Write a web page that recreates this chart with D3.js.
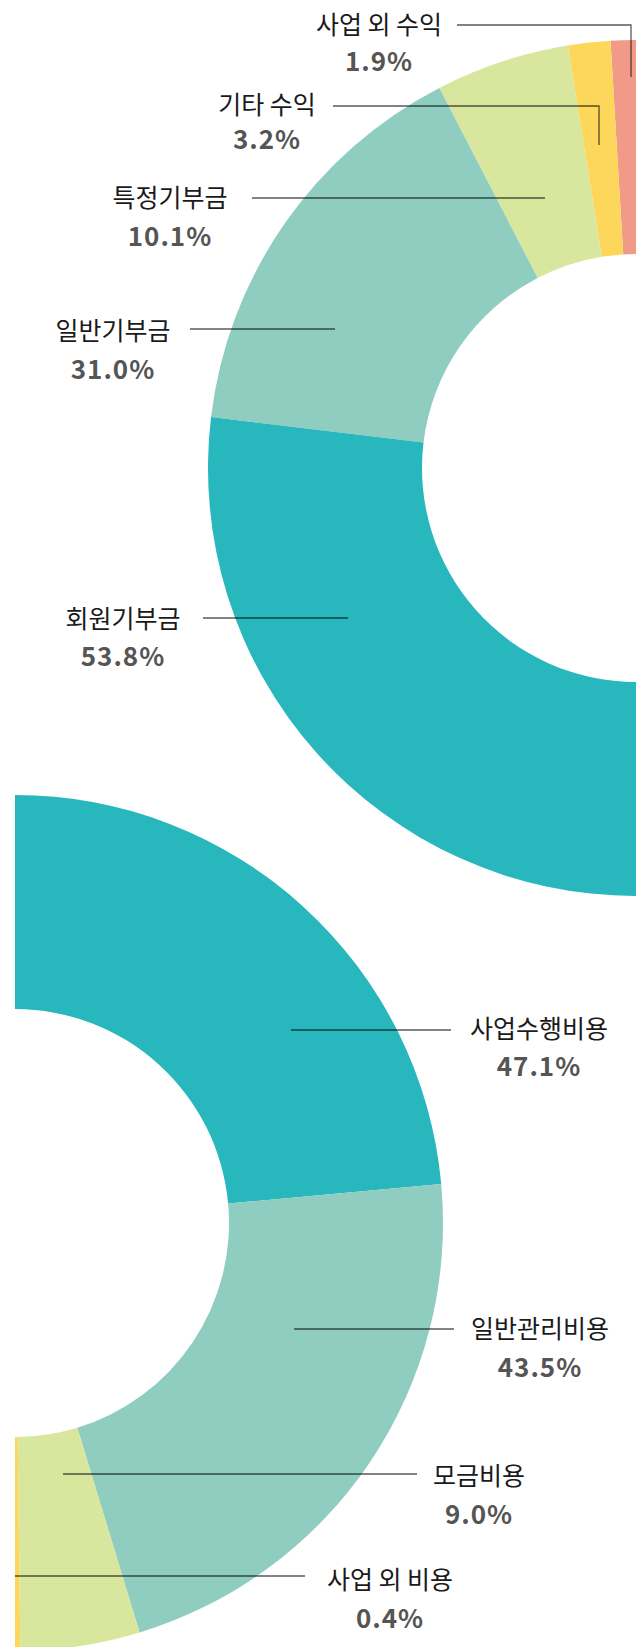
<!DOCTYPE html>
<html>
<head>
<meta charset="utf-8">
<script src="https://cdn.jsdelivr.net/npm/d3@7"></script>
<style>
  html, body { margin: 0; padding: 0; background: #fff; }
  svg { display: block; }
</style>
</head>
<body>
<div id="chart"></div>
<script>
// ---- data ----
const incomeLabels = ['사업 외 수익', '기타 수익', '특정기부금', '일반기부금', '회원기부금'];
const incomeValues = [1.9, 3.2, 10.1, 31.0, 53.8];
const expenseLabels = ['사업수행비용', '일반관리비용', '모금비용', '사업 외 비용'];
const expenseValues = [47.1, 43.5, 9.0, 0.4];

// ---- styles / layout ----
const incomeColors = ['#f29a88', '#fdd75c', '#d8e69e', '#8ecdc0', '#27b7bc'];
const expenseColors = ['#27b7bc', '#8ecdc0', '#d8e69e', '#fdd75c'];

const W = 642, H = 1647;
const outerR = 428, innerR = 214;
const topCenter = [636, 468];
const botCenter = [15, 1223];

// label layout: text center x, label center y, pct center y, leader polyline points
const incomeLayout = [
  { tx: 379, ly: 23, py: 59, pts: [[457, 25], [631, 25], [631, 77]] },
  { tx: 267, ly: 103, py: 137, pts: [[333, 106], [599, 106], [599, 145]] },
  { tx: 170, ly: 196, py: 234, pts: [[252, 198], [545, 198]] },
  { tx: 113, ly: 329, py: 367, pts: [[190, 329], [335, 329]] },
  { tx: 123, ly: 617, py: 654, pts: [[203, 618], [348, 618]] }
];
const expenseLayout = [
  { tx: 539, ly: 1027, py: 1064, pts: [[291, 1030], [451, 1030]] },
  { tx: 540, ly: 1327, py: 1365, pts: [[294, 1329], [454, 1329]] },
  { tx: 479, ly: 1474, py: 1512, pts: [[63, 1474], [417, 1474]] },
  { tx: 390, ly: 1578, py: 1616, pts: [[15, 1576], [305, 1576]] }
];

const svg = d3.select('#chart').append('svg')
  .attr('width', W).attr('height', H)
  .attr('viewBox', `0 0 ${W} ${H}`);

const arc = d3.arc().innerRadius(innerR).outerRadius(outerR);

function drawDonut(center, labels, values, colors, start, end, layout) {
  const pie = d3.pie().sort(null).startAngle(start).endAngle(end).value(d => d);
  const arcs = pie(values);
  const g = svg.append('g').attr('transform', `translate(${center[0]},${center[1]})`);
  g.selectAll('path').data(arcs).join('path')
    .attr('d', arc)
    .attr('fill', (d, i) => colors[i]);

  const lineGen = d3.line();
  const lg = svg.append('g');
  lg.selectAll('path').data(layout).join('path')
    .attr('d', d => lineGen(d.pts))
    .attr('fill', 'none')
    .attr('stroke', '#000')
    .attr('stroke-opacity', 0.65)
    .attr('stroke-width', 1.3);

  const tg = svg.append('g');
  tg.selectAll('text.lab').data(layout).join('text')
    .attr('class', 'lab')
    .attr('x', d => d.tx).attr('y', d => d.ly)
    .attr('text-anchor', 'middle')
    .attr('dominant-baseline', 'central')
    .attr('font-family', '"Noto Sans CJK KR", "Noto Sans", sans-serif')
    .attr('font-size', 25)
    .attr('font-weight', 400)
    .attr('fill', '#1a1a1a')
    .text((d, i) => labels[i]);
  tg.selectAll('text.pct').data(layout).join('text')
    .attr('class', 'pct')
    .attr('x', d => d.tx).attr('y', d => d.py)
    .attr('text-anchor', 'middle')
    .attr('dominant-baseline', 'central')
    .attr('font-family', '"Noto Sans CJK KR", "Noto Sans", sans-serif')
    .attr('font-size', 26)
    .attr('font-weight', 700)
    .attr('letter-spacing', 1)
    .attr('fill', '#555')
    .text((d, i) => values[i].toFixed(1) + '%');
}

drawDonut(topCenter, incomeLabels, incomeValues, incomeColors, 0, -Math.PI, incomeLayout);
drawDonut(botCenter, expenseLabels, expenseValues, expenseColors, 0, Math.PI, expenseLayout);
</script>
</body>
</html>
